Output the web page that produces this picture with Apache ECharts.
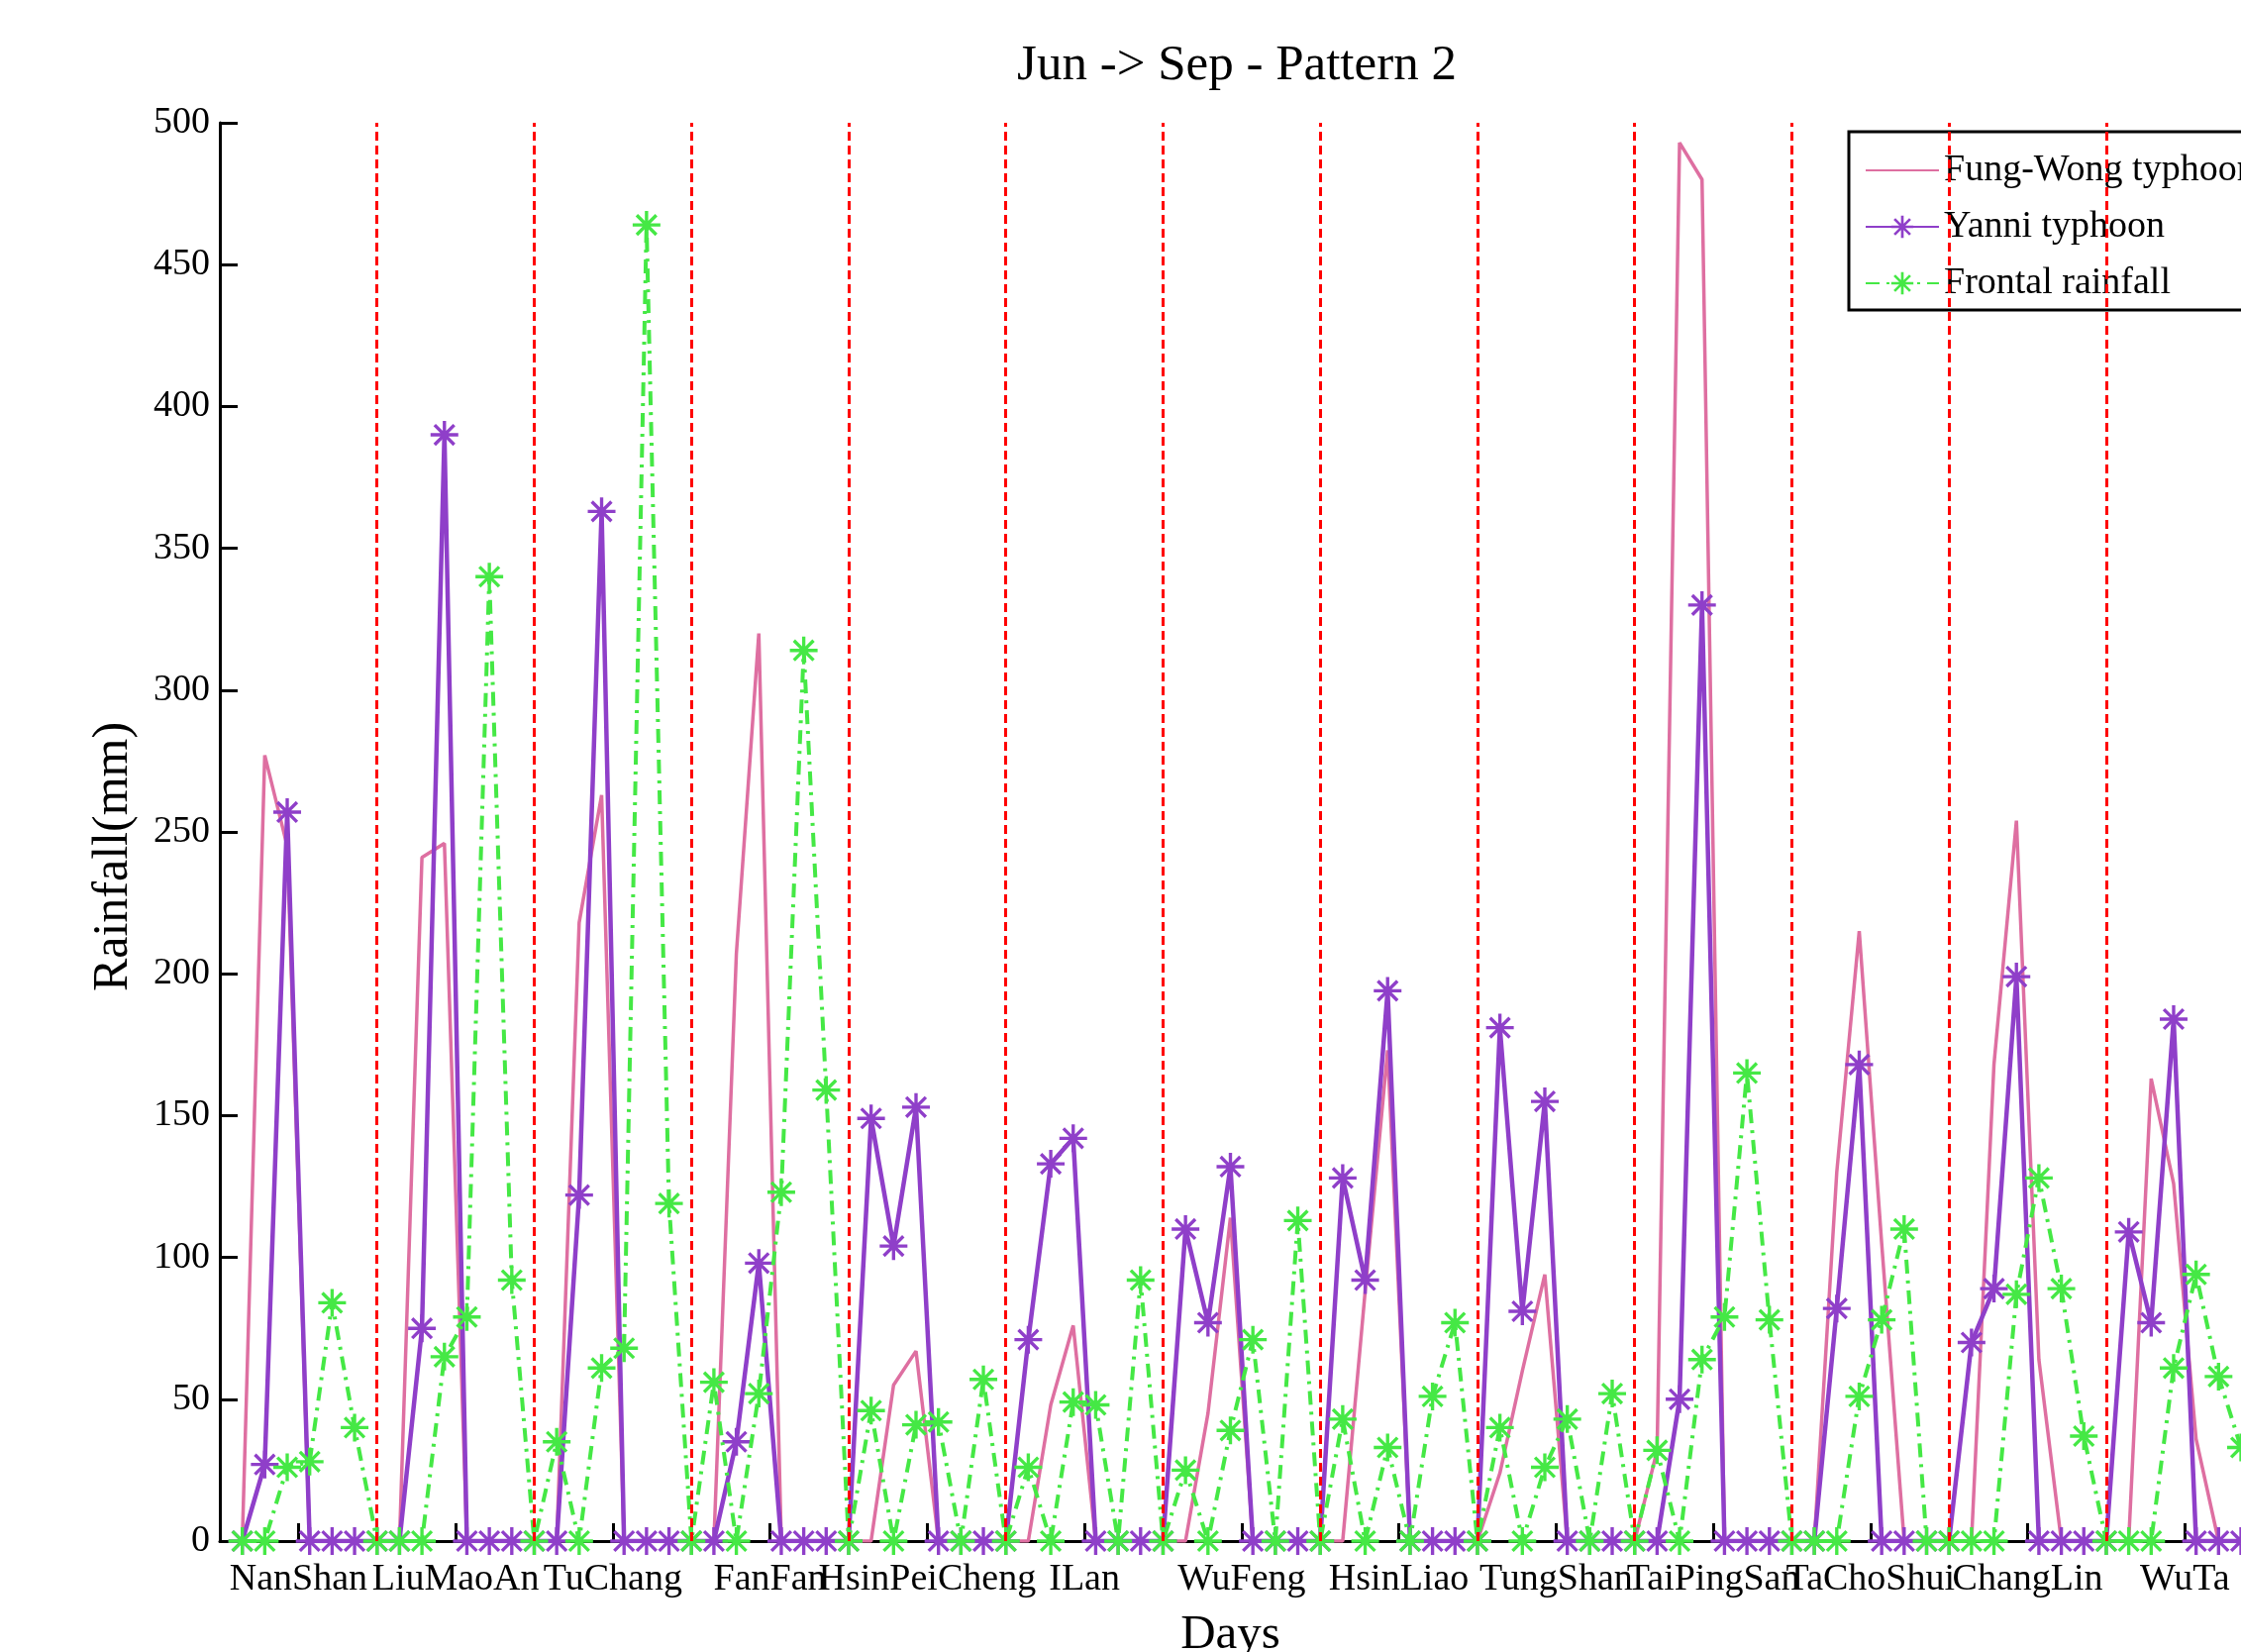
<!DOCTYPE html>
<html><head><meta charset="utf-8">
<script src="https://cdn.jsdelivr.net/npm/echarts@6/dist/echarts.min.js"></script>
<style>html,body{margin:0;padding:0;background:#fff;overflow:hidden}#chart{width:2263px;height:1668px}</style>
</head><body><div id="chart"></div>
<script>
// Station names (7 days per station)
const stations = ['NanShan','LiuMaoAn','TuChang','FanFan','HsinPeiCheng','ILan','WuFeng','HsinLiao','TungShan','TaiPingSan','TaChoShui','ChangLin','WuTa'];
const labelPositions = [3.5,10.5,17.5,24.5,31.5,38.5,45.5,52.5,59.5,66.5,73.5,80.5,87.5];
const stationBoundaries = [7,14,21,28,35,42,49,56,63,70,77,84];

const fungWong = [
  0,277,245,0,0,0,0,
  0,241,246,0,0,0,0,
  0,218,263,0,0,0,0,
  0,207,320,0,0,0,0,
  0,55,67,0,0,0,0,
  0,48,76,0,0,0,0,
  0,45,114,0,0,0,0,
  0,88,173,0,0,0,0,
  24,60,94,0,0,0,0,
  32,493,480,0,0,0,0,
  0,130,215,105,0,0,0,
  0,168,254,64,0,0,0,
  0,163,126,36,0,0,0
];
const yanni = [
  0,27,257,0,0,0,0,
  0,75,390,0,0,0,0,
  0,122,363,0,0,0,0,
  0,35,98,0,0,0,0,
  149,104,153,0,0,0,0,
  71,133,142,0,0,0,0,
  110,77,132,0,0,0,0,
  128,92,194,0,0,0,0,
  181,81,155,0,0,0,0,
  0,50,330,0,0,0,0,
  0,82,168,0,0,0,0,
  70,89,199,0,0,0,0,
  109,77,184,0,0,0,0
];
const frontal = [
  0,0,26,28,84,40,0,
  0,0,65,79,340,92,0,
  35,0,61,68,464,119,0,
  56,0,52,123,314,159,0,
  46,0,41,42,0,57,0,
  26,0,49,48,0,92,0,
  25,0,39,71,0,113,0,
  43,0,33,0,51,77,0,
  40,0,26,43,0,52,0,
  32,0,64,79,165,78,0,
  0,0,51,78,110,0,0,
  0,0,87,128,89,37,0,
  0,0,61,94,58,33,0
];

const FONT = "'Liberation Serif','Times New Roman',serif";
const STAR = 'path://M-1,-0.12L1,-0.12L1,0.12L-1,0.12ZM-0.12,-1L0.12,-1L0.12,1L-0.12,1ZM-0.6222,-0.7919L0.7919,0.6222L0.6222,0.7919L-0.7919,-0.6222ZM0.7919,-0.6222L-0.6222,0.7919L-0.7919,0.6222L0.6222,-0.7919Z';
const toXY = arr => arr.map((v, i) => [i + 1, v]);

const chart = echarts.init(document.getElementById('chart'));
chart.setOption({
  animation: false,
  backgroundColor: '#ffffff',
  title: {
    text: 'Jun -> Sep - Pattern 2',
    left: 1244, top: 36, textAlign: 'center',
    textStyle: {fontFamily: FONT, fontSize: 51, fontWeight: 'normal', color: '#000'}
  },
  legend: {
    orient: 'vertical', left: 1867, top: 133,
    data: [
      {name: 'Fung-Wong typhoon', itemStyle: {opacity: 0}},
      {name: 'Yanni typhoon'},
      {name: 'Frontal rainfall'}
    ],
    itemWidth: 74, itemHeight: 28, itemGap: 13,
    padding: [17, 10, 5, 16],
    borderColor: '#000', borderWidth: 3, backgroundColor: '#fff',
    textStyle: {fontFamily: FONT, fontSize: 38, color: '#000', lineHeight: 44}
  },
  grid: {left: 222, top: 124, bottom: 112, right: 0, outerBoundsMode: 'none', containLabel: false},
  xAxis: {
    type: 'value', min: 0, max: 90,
    name: 'Days', nameLocation: 'middle', nameGap: 71,
    nameTextStyle: {fontFamily: FONT, fontSize: 49, color: '#000'},
    axisLine: {lineStyle: {color: '#000', width: 3}},
    axisTick: {customValues: labelPositions, inside: true, length: 18, lineStyle: {color: '#000', width: 3}},
    axisLabel: {customValues: labelPositions, margin: 20, fontFamily: FONT, fontSize: 38, color: '#000',
      formatter: v => stations[Math.round((v - 3.5) / 7)] || ''},
    splitLine: {show: false}
  },
  yAxis: {
    type: 'value', min: 0, max: 500, interval: 50,
    name: 'Rainfall(mm)', nameLocation: 'middle', nameGap: 82,
    nameTextStyle: {fontFamily: FONT, fontSize: 50, color: '#000', padding: [0, 50, 0, 0]},
    axisLine: {show: true, lineStyle: {color: '#000', width: 3}},
    axisTick: {show: true, inside: true, length: 18, lineStyle: {color: '#000', width: 3}},
    axisLabel: {margin: 10, fontFamily: FONT, fontSize: 38, color: '#000'},
    splitLine: {show: false}
  },
  series: [
    {
      name: 'Fung-Wong typhoon', type: 'line', data: toXY(fungWong),
      symbol: 'none', lineStyle: {color: '#DE6FA1', width: 3.5}, itemStyle: {color: '#DE6FA1'}, z: 2
    },
    {
      name: 'Yanni typhoon', type: 'line', data: toXY(yanni),
      symbol: STAR, symbolSize: 28, showAllSymbol: true,
      lineStyle: {color: '#8F3FC9', width: 4.5}, itemStyle: {color: '#8F3FC9', borderWidth: 0}, z: 3
    },
    {
      name: 'Frontal rainfall', type: 'line', data: toXY(frontal),
      symbol: STAR, symbolSize: 28, showAllSymbol: true,
      lineStyle: {color: '#45E845', width: 4, type: [14, 7, 3, 7]}, itemStyle: {color: '#45E845', borderWidth: 0}, z: 4
    },
    {
      name: 'boundaries', type: 'line', data: [], z: 5, silent: true,
      markLine: {
        silent: true, symbol: ['none', 'none'], label: {show: false},
        lineStyle: {color: '#FF0000', width: 3, type: [9, 5]},
        emphasis: {disabled: true},
        data: stationBoundaries.map(v => ({xAxis: v}))
      }
    }
  ]
});
</script></body></html>
